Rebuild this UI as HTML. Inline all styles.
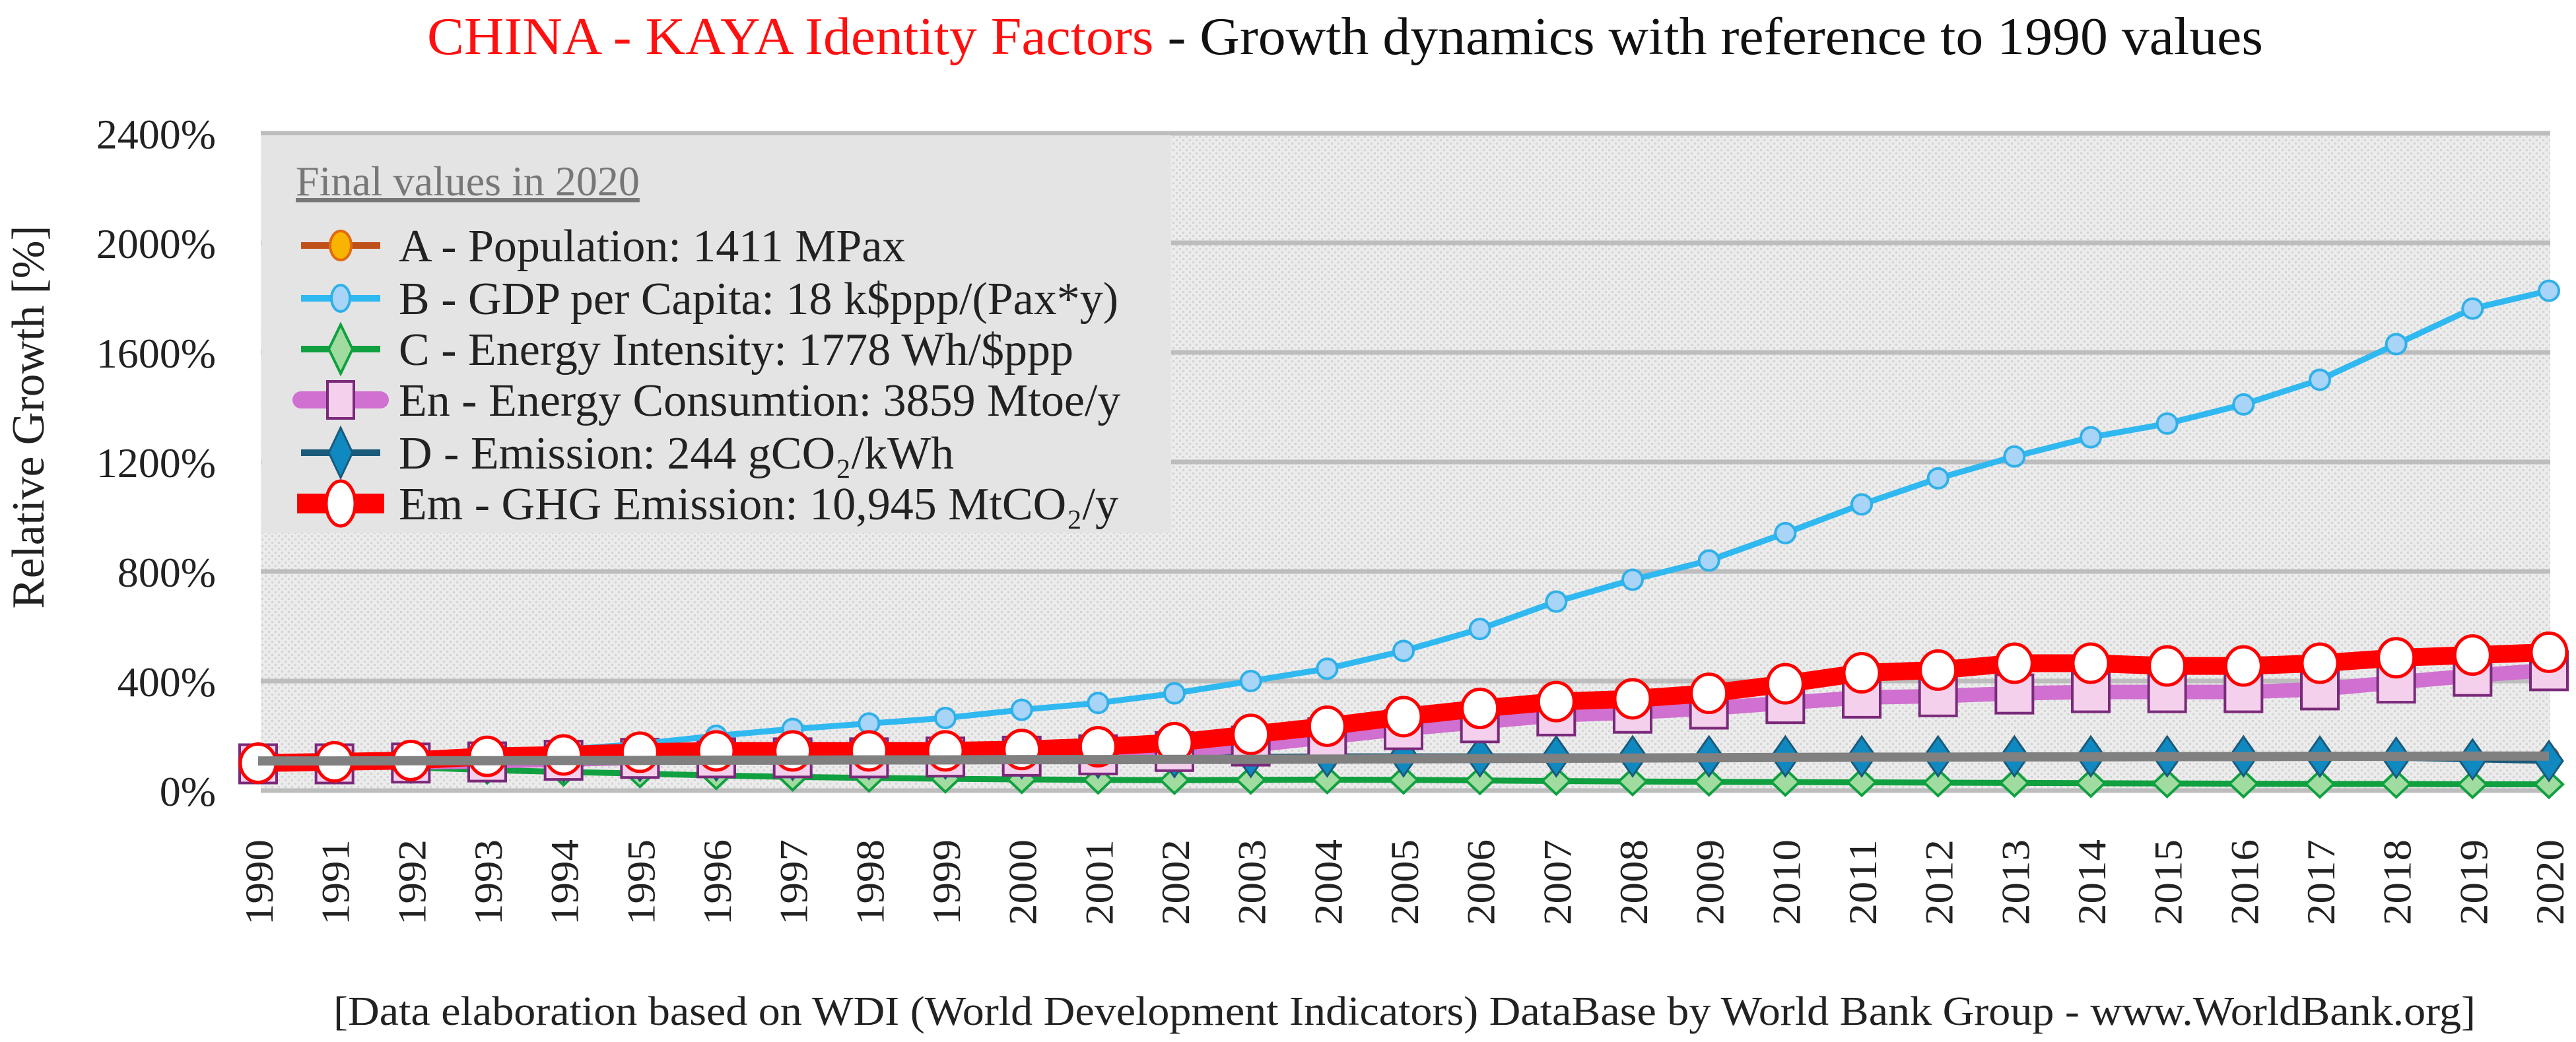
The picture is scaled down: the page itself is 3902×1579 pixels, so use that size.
<!DOCTYPE html>
<html><head><meta charset="utf-8"><style>
html,body{margin:0;padding:0;background:#fff;}
svg{display:block;}
text{font-family:"Liberation Serif",serif;}
</style></head><body>
<svg id="chart" width="3902" height="1579" viewBox="0 0 3902 1579" xmlns="http://www.w3.org/2000/svg">
<defs>
<pattern id="dots" width="10" height="10" patternUnits="userSpaceOnUse">
<rect width="10" height="10" fill="#ececec"/>
<circle cx="2.5" cy="2.5" r="1.8" fill="#d4d4d4"/>
<circle cx="7.5" cy="7.5" r="1.8" fill="#d4d4d4"/>
</pattern>
</defs>
<text x="647" y="82" font-size="80" textLength="2781" lengthAdjust="spacingAndGlyphs"><tspan fill="#ff1010">CHINA - KAYA Identity Factors</tspan><tspan fill="#111"> - Growth dynamics with reference to 1990 values</tspan></text>
<rect x="395" y="202" width="3468" height="996" fill="url(#dots)"/>
<g id="grid"></g>
<g id="yticks"></g>
<g id="xticks"></g>
<g>
<rect x="396" y="205" width="1378" height="603" fill="#e4e4e4"/>
<text x="448" y="296" font-size="64" fill="#777" text-decoration="underline">Final values in 2020</text>
<g>
<line x1="456" y1="372" x2="576" y2="372" stroke="#c0501a" stroke-width="10"/><ellipse cx="516" cy="372" rx="16" ry="22" fill="#f8b400" stroke="#e06a10" stroke-width="4"/>
<text x="604" y="396" font-size="70" fill="#222">A - Population: 1411 MPax</text></g>
<g>
<line x1="456" y1="452" x2="576" y2="452" stroke="#30b8f0" stroke-width="10"/><ellipse cx="516" cy="452" rx="14" ry="20" fill="#a8d4f8" stroke="#30b0e8" stroke-width="4"/>
<text x="604" y="476" font-size="70" fill="#222">B - GDP per Capita: 18 k$ppp/(Pax*y)</text></g>
<g>
<line x1="456" y1="529" x2="576" y2="529" stroke="#10a040" stroke-width="10"/><polygon points="516,492 534,529 516,566 498,529" fill="#a0dca0" stroke="#10a040" stroke-width="4"/>
<text x="604" y="553" font-size="70" fill="#222">C - Energy Intensity: 1778 Wh/$ppp</text></g>
<g>
<line x1="456" y1="606" x2="576" y2="606" stroke="#d070d0" stroke-width="26" stroke-linecap="round"/><rect x="496" y="578" width="40" height="56" fill="#f4d0ec" stroke="#7a2a7a" stroke-width="4"/>
<text x="604" y="630" font-size="70" fill="#222">En - Energy Consumtion: 3859 Mtoe/y</text></g>
<g>
<line x1="456" y1="686" x2="576" y2="686" stroke="#1a5a7a" stroke-width="10"/><polygon points="516,648 534,686 516,724 498,686" fill="#1088c0" stroke="#1a5a7a" stroke-width="3"/>
<text x="604" y="710" font-size="70" fill="#222">D - Emission: 244 gCO₂/kWh</text></g>
<g>
<line x1="450" y1="763" x2="582" y2="763" stroke="#ff0000" stroke-width="30"/><ellipse cx="516" cy="763" rx="22" ry="34" fill="#fff" stroke="#ff0000" stroke-width="5"/>
<text x="604" y="787" font-size="70" fill="#222">Em - GHG Emission: 10,945 MtCO₂/y</text></g>
</g>
<g id="series"></g>
<text transform="translate(66,632) rotate(-90)" text-anchor="middle" font-size="70" fill="#222" textLength="581" lengthAdjust="spacingAndGlyphs">Relative Growth [%]</text>
<text x="505" y="1553" font-size="62" fill="#222" textLength="3245" lengthAdjust="spacingAndGlyphs">[Data elaboration based on WDI (World Development Indicators) DataBase by World Bank Group - www.WorldBank.org]</text>
</svg>
<script>
const years = [1990,1991,1992,1993,1994,1995,1996,1997,1998,1999,2000,2001,2002,2003,2004,2005,2006,2007,2008,2009,2010,2011,2012,2013,2014,2015,2016,2017,2018,2019,2020];
const yTicks = [0,400,800,1200,1600,2000,2400];
const seriesA = [100,101,103,104,105,106,107,108,109,110,111,111,112,113,113,114,115,115,116,116,117,118,118,119,120,120,121,122,122,123,124];
const seriesGray = [108,108,109,109,110,110,111,111,112,112,113,113,114,114,115,116,117,118,119,120,121,122,122,123,123,124,124,125,125,126,126];
const seriesB = [100,105,115,130,150,170,200,225,245,265,295,320,355,400,445,510,590,690,770,840,940,1045,1140,1220,1290,1340,1410,1500,1630,1760,1825];
const seriesC = [100,95,85,75,68,62,55,50,46,43,41,39,38,39,40,39,37,35,33,32,31,30,29,28,27,26,25,24,24,23,23];
const seriesEn = [100,100,103,107,113,120,122,122,122,125,128,133,145,165,195,225,250,275,285,300,320,340,345,355,360,360,360,370,395,420,440];
const seriesD = [100,100,101,103,105,108,110,112,115,117,118,120,122,123,125,125,125,125,125,125,125,125,125,125,125,125,125,124,120,114,108];
const seriesEm = [100,105,110,125,130,140,145,145,145,145,150,160,175,205,235,270,300,325,335,355,390,430,440,465,465,455,455,465,485,495,505];

const NS = "http://www.w3.org/2000/svg";
const X0 = 391, X1 = 3861, Y0 = 1198, Y1 = 202;
function xs(i){ return X0 + (X1 - X0) * i / (years.length - 1); }
function ys(v){ return Y0 - (Y0 - Y1) * v / 2400; }
function mk(tag, attrs, parent){ const e = document.createElementNS(NS, tag); for (const k in attrs) e.setAttribute(k, attrs[k]); parent.appendChild(e); return e; }

const grid = document.getElementById('grid');
const yt = document.getElementById('yticks');
yTicks.forEach(v => {
  const l = mk('line', {x1:395, x2:3863, y1:ys(v), y2:ys(v), stroke:'#bdbdbd', 'stroke-width':7}, grid);
  
  
  const t = mk('text', {x:327, y:ys(v) + 23, 'text-anchor':'end', 'font-size':64, fill:'#222', 'font-family':'Liberation Sans, sans-serif'}, yt);
  
  
  t.textContent = v + '%';
});
const xt = document.getElementById('xticks');
years.forEach((y, i) => {
  const t = mk('text', {transform:'translate(' + (xs(i) + 22) + ',1402) rotate(-90)', 'font-size':60, fill:'#222', 'font-family':'Liberation Sans, sans-serif', textLength:130, lengthAdjust:'spacingAndGlyphs'}, xt);
  
  
  t.textContent = y;
});

const sg = document.getElementById('series');
function line(vals, color, w, name){
  const p = mk('polyline', {points: vals.map((v, i) => xs(i) + ',' + ys(v)).join(' '), fill:'none', stroke:color, 'stroke-width':w, 'stroke-linejoin':'round'}, sg);
  
  
}
// C
line(seriesC, '#10a040', 9, 'line-energy-intensity');
seriesC.forEach((v, i) => { const x = xs(i), y = ys(v);
  const m = mk('polygon', {points:`${x},${y-20} ${x+21},${y} ${x},${y+20} ${x-21},${y}`, fill:'#a0dca0', stroke:'#10a040', 'stroke-width':4}, sg);
  
   });
// A
line(seriesA, '#c0501a', 8, 'line-population');
seriesA.forEach((v, i) => {
  const m = mk('circle', {cx:xs(i), cy:ys(v), r:14, fill:'#f8b400', stroke:'#e06a10', 'stroke-width':4}, sg);
  
   });
// D
line(seriesD, '#1a5a7a', 9, 'line-emission-factor');
seriesD.forEach((v, i) => { const x = xs(i), y = ys(v);
  const m = mk('polygon', {points:`${x},${y-30} ${x+21},${y} ${x},${y+30} ${x-21},${y}`, fill:'#1088c0', stroke:'#1a5a7a', 'stroke-width':3}, sg);
  
   });
// En
line(seriesEn, '#d070d0', 22, 'line-energy-consumption');
seriesEn.forEach((v, i) => {
  const m = mk('rect', {x:xs(i) - 28, y:ys(v) - 28, width:56, height:58, fill:'#f4d0ec', stroke:'#7a2a7a', 'stroke-width':4}, sg);
  
   });
// B
line(seriesB, '#30b8f0', 9, 'line-gdp-per-capita');
seriesB.forEach((v, i) => {
  const m = mk('circle', {cx:xs(i), cy:ys(v), r:15, fill:'#a8d4f8', stroke:'#30b0e8', 'stroke-width':4}, sg);
  
   });
// Em
line(seriesEm, '#ff0000', 27, 'line-ghg-emission');
seriesEm.forEach((v, i) => {
  const m = mk('ellipse', {cx:xs(i), cy:ys(v), rx:27, ry:29, fill:'#fff', stroke:'#ff0000', 'stroke-width':5}, sg);
  
   });
// gray reference on top
line(seriesGray, '#808080', 14, 'line-gray-reference');
</script>
</body></html>
